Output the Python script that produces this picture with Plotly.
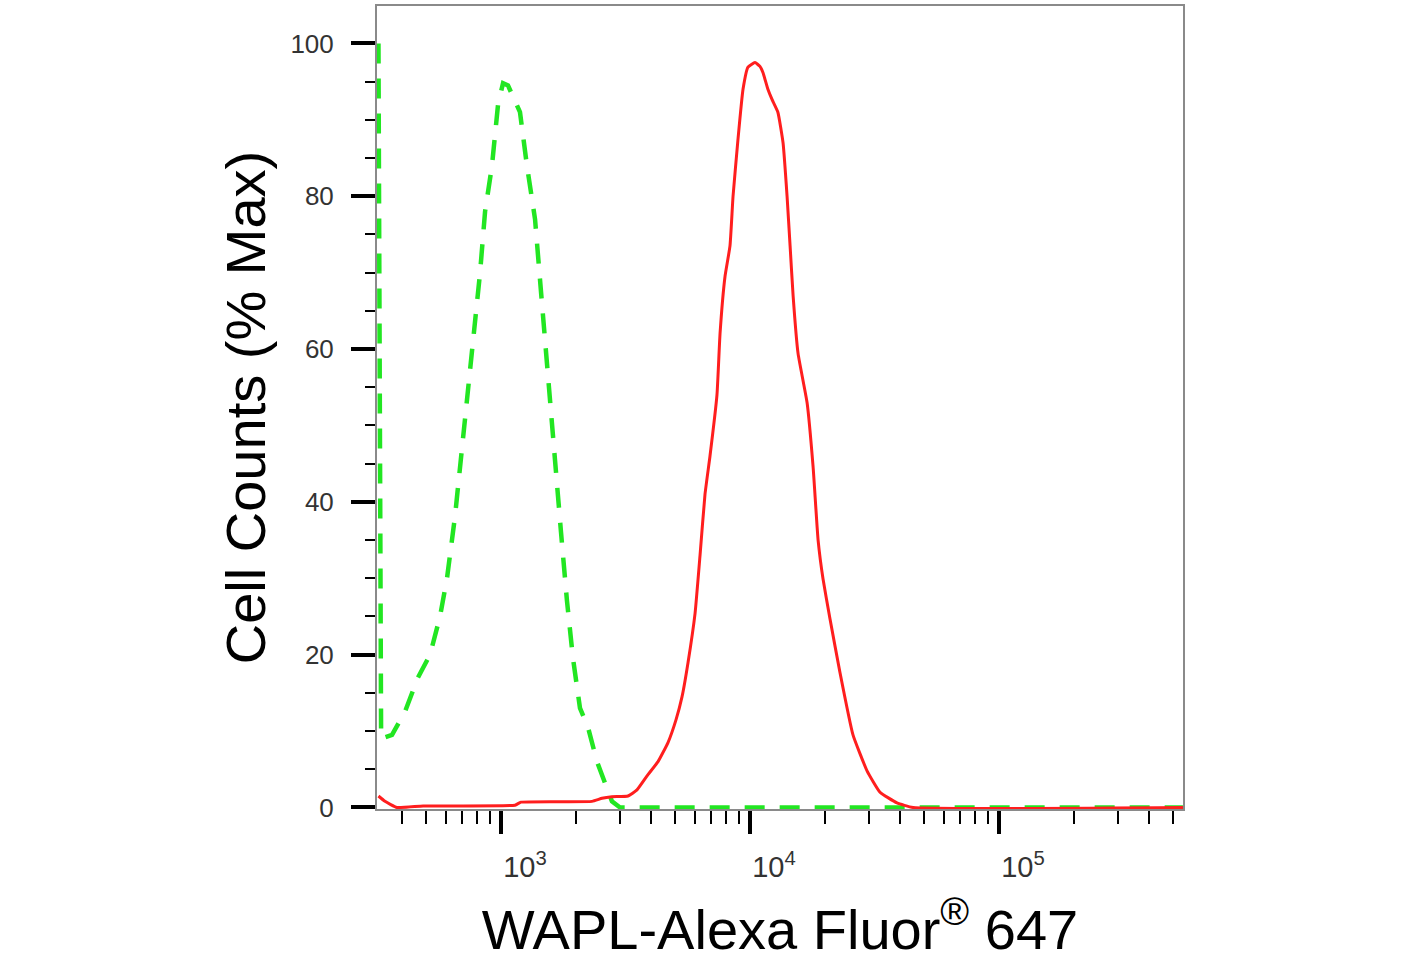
import plotly.graph_objects as go

# control histogram (dashed green) - fluorescence intensity vs % max
control_x = [322, 330, 365, 411, 464, 519, 569, 607, 653, 697, 736, 780, 824, 863, 920, 973,
             1019, 1067, 1117, 1192, 1271, 1370, 1435, 1503, 1574, 1648, 1742, 1841, 1946,
             2076, 2235, 2430, 2616, 2790, 3006, 548000]
control_y = [100, 9, 9.5, 12.5, 17, 20, 25, 30, 38, 47, 54, 62, 70, 78, 84, 92,
             94.8, 94.5, 93, 91, 84, 77, 69, 61, 53, 44, 36, 27, 19.5,
             13, 10.5, 6, 3, 0.8, 0, 0]

# WAPL stained histogram (solid red)
wapl_x = [322, 342, 382, 487, 1138, 1203, 2319, 2545, 2790, 3236, 3517, 3893, 4272, 4685,
          5047, 5335, 5641, 6017, 6300, 6597, 6908, 7368, 7580, 7937, 8311, 8549, 8952,
          9374, 9816, 10471, 10965, 11272, 11803, 12245, 12942, 13575, 14089, 14488,
          14898, 15600, 16950, 17920, 18770, 19650, 20950, 22970, 25920, 29520, 33280,
          38930, 45140, 548000]
wapl_y = [1.5, 0.8, 0, 0.2, 0.3, 0.7, 0.8, 1.2, 1.4, 1.5, 2.3, 4.3, 6, 8.5,
          11.5, 14.5, 19, 25.4, 33, 41, 46, 54, 62, 69.5, 73.5, 80, 87.5,
          94, 96.9, 97.5, 97, 96.2, 94, 92.7, 91, 87, 80, 73.5,
          67, 59.4, 53, 44.6, 35, 29.9, 24.7, 17.7, 9.5, 4.8, 2,
          0.6, 0, 0]

x_major = [1e3, 1e4, 1e5]
x_major_text = ["10<sup>3</sup>", "10<sup>4</sup>", "10<sup>5</sup>"]
x_minor = [m * 10 ** e for e in (2, 3, 4, 5) for m in range(2, 10)]
y_major = [0, 20, 40, 60, 80, 100]

FONT = "Liberation Sans, Arial, sans-serif"

fig = go.Figure()
fig.add_trace(go.Scatter(x=control_x, y=control_y, mode="lines",
                         line=dict(color="#22E622", width=4.5, dash="20px,15px"),
                         showlegend=False))
fig.add_trace(go.Scatter(x=wapl_x, y=wapl_y, mode="lines",
                         line=dict(color="#FF1E1E", width=3, shape="spline", smoothing=0.4),
                         showlegend=False))

fig.update_xaxes(type="log", range=[2.502, 5.739],
                 tickvals=x_major, ticktext=x_major_text,
                 ticks="outside", ticklen=23, tickwidth=4, tickcolor="black",
                 ticklabelshift=24, ticklabelstandoff=8,
                 minor=dict(tickvals=x_minor, ticks="outside", ticklen=13, tickwidth=2,
                            tickcolor="black", showgrid=False),
                 showline=True, linecolor="#8a8a8a", linewidth=2, mirror=True,
                 showgrid=False, zeroline=False,
                 tickfont=dict(family=FONT, size=29, color="#333333"),
                 title=dict(text="WAPL-Alexa Fluor<sup>®</sup> 647", standoff=30,
                            font=dict(family=FONT, size=56, color="black")))

fig.update_yaxes(range=[-0.2, 104.9],
                 tickvals=y_major,
                 ticks="outside", ticklen=24, tickwidth=4, tickcolor="black",
                 ticklabelstandoff=12,
                 minor=dict(dtick=5, ticks="outside", ticklen=10, tickwidth=2,
                            tickcolor="black", showgrid=False),
                 showline=True, linecolor="#8a8a8a", linewidth=2, mirror=True,
                 showgrid=False, zeroline=False,
                 tickfont=dict(family=FONT, size=26, color="#333333"),
                 title=dict(text="Cell Counts (% Max)", standoff=7,
                            font=dict(family=FONT, size=56, color="black")))

fig.update_layout(width=1412, height=961,
                  margin=dict(l=377, r=229, t=4, b=152),
                  plot_bgcolor="white", paper_bgcolor="white")

fig.write_html("out.html", config={"displayModeBar": False},
               post_script="document.body.style.margin='0px';")
